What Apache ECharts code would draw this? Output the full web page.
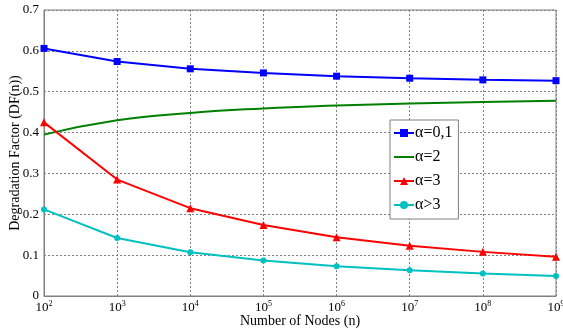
<!DOCTYPE html>
<html><head><meta charset="utf-8">
<script src="https://cdn.jsdelivr.net/npm/echarts@6/dist/echarts.min.js"></script>
<style>html,body{margin:0;padding:0;background:#fff}#c{width:563px;height:330px}</style>
</head><body><div id="c"></div>
<script>
const nodes = [1e2, 1e3, 1e4, 1e5, 1e6, 1e7, 1e8, 1e9];
const alpha01 = [0.606, 0.574, 0.556, 0.546, 0.538, 0.533, 0.529, 0.527];
const alpha2  = [0.395, 0.430, 0.448, 0.459, 0.466, 0.471, 0.475, 0.478];
const alpha3  = [0.425, 0.285, 0.215, 0.174, 0.144, 0.123, 0.108, 0.096];
const alphaGt3 = [0.212, 0.142, 0.107, 0.087, 0.073, 0.063, 0.055, 0.049];
const seriesNames = ['α=0,1', 'α=2', 'α=3', 'α>3'];
const yTicks = [0, 0.1, 0.2, 0.3, 0.4, 0.5, 0.6, 0.7];

const pair = arr => nodes.map((n, i) => [n, arr[i]]);
const font = 'Liberation Serif';
const chart = echarts.init(document.getElementById('c'));
chart.setOption({
  animation: false,
  grid: {left: 44, right: 7, top: 10, bottom: 34, show: true, borderColor: '#808080', borderWidth: 1,
         outerBoundsMode: 'none', containLabel: false},
  xAxis: {
    type: 'log', logBase: 10, min: 1e2, max: 1e9,
    name: 'Number of Nodes (n)', nameLocation: 'middle', nameGap: 18, nameMoveOverlap: false,
    nameTextStyle: {fontFamily: font, fontSize: 14, color: '#000'},
    axisLine: {lineStyle: {color: '#808080'}},
    axisTick: {show: false},
    splitLine: {show: true, lineStyle: {color: '#808080', type: [2, 2], width: 1}},
    axisLabel: {
      fontFamily: font, fontSize: 13, color: '#000', margin: 4,
      formatter: v => '10{s|' + Math.round(Math.log10(v)) + '}',
      rich: {s: {fontFamily: font, fontSize: 8, color: '#000', verticalAlign: 'top', padding: [0, 0, 7, 0]}}
    }
  },
  yAxis: {
    type: 'value', min: 0, max: 0.7, interval: 0.1,
    name: 'Degradation Factor (DF(n))', nameLocation: 'middle', nameGap: 22, nameMoveOverlap: false,
    nameTextStyle: {fontFamily: font, fontSize: 14, color: '#000'},
    axisLine: {show: true, lineStyle: {color: '#808080'}},
    axisTick: {show: false},
    splitLine: {show: true, lineStyle: {color: '#808080', type: [2, 2], width: 1}},
    axisLabel: {fontFamily: font, fontSize: 13, color: '#000', margin: 5,
      formatter: v => { const t = yTicks.find(x => Math.abs(x - v) < 1e-9); return t === undefined ? '' : String(t); }}
  },
  legend: {
    orient: 'vertical', left: 390, top: 120,
    backgroundColor: '#fff', borderColor: '#808080', borderWidth: 1,
    padding: [5, 6, 6, 3], itemGap: 8, itemWidth: 20, itemHeight: 10,
    textStyle: {fontFamily: font, fontSize: 16, color: '#000', padding: [0, 0, 0, -4]},
    data: [seriesNames[0], {name: seriesNames[1], itemStyle: {opacity: 0}}, seriesNames[2], seriesNames[3]]
  },
  series: [
    {name: seriesNames[0], type: 'line', data: pair(alpha01), color: '#0000ff',
     lineStyle: {width: 2}, symbol: 'rect', symbolSize: 7},
    {name: seriesNames[1], type: 'line', data: pair(alpha2), color: '#008000',
     lineStyle: {width: 2}, symbol: 'none', smooth: true},
    {name: seriesNames[2], type: 'line', data: pair(alpha3), color: '#ff0000',
     lineStyle: {width: 2}, symbol: 'triangle', symbolSize: 8},
    {name: seriesNames[3], type: 'line', data: pair(alphaGt3), color: '#00c0c0',
     lineStyle: {width: 2}, symbol: 'circle', symbolSize: 6}
  ]
});
</script></body></html>
